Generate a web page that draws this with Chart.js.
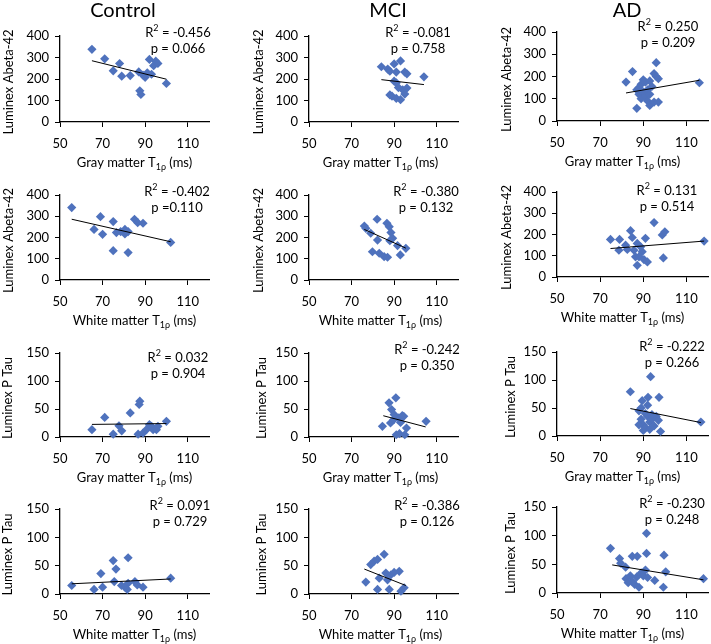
<!DOCTYPE html>
<html><head><meta charset="utf-8">
<script src="https://cdn.jsdelivr.net/npm/chart.js@4"></script>
<style>
html,body{margin:0;padding:0;background:#fff;}
#wrap{position:relative;width:711px;height:644px;overflow:hidden;background:#fff;}
canvas{position:absolute;}
</style></head><body><div id="wrap"></div>
<script>
// ---------- DATA ----------
const groups = ['Control', 'MCI', 'AD'];
const xTicks = [50, 70, 90, 110];
const abetaTicks = [0, 100, 200, 300, 400];
const ptauTicks = [0, 50, 100, 150];
const xTitles = ['Gray matter T', 'White matter T', 'Gray matter T', 'White matter T'];
const yTitles = ['Luminex Abeta-42', 'Luminex Abeta-42', 'Luminex P Tau', 'Luminex P Tau'];
const r2Values = ['-0.456', '-0.081', '0.250', '-0.402', '-0.380', '0.131', '0.032', '-0.242', '-0.222', '0.091', '-0.386', '-0.230'];
const pTexts = ['p = 0.066', 'p = 0.758', 'p = 0.209', 'p =0.110', 'p = 0.132', 'p = 0.514', 'p = 0.904', 'p = 0.350', 'p = 0.266', 'p = 0.729', 'p = 0.126', 'p = 0.248'];

// Row 1: gray matter vs Abeta-42
const ctrlGmAbetaX = [65, 71, 75, 78, 79, 83, 87, 87.5, 88, 89, 90, 91, 92, 93, 94, 95, 96, 100];
const ctrlGmAbetaY = [338, 294, 238, 272, 213, 216, 233, 145, 128, 218, 208, 229, 291, 222, 262, 283, 272, 179];
const ctrlGmAbetaTrendX = [65, 100];
const ctrlGmAbetaTrendY = [285, 199];

const mciGmAbetaX = [84, 87, 88, 90, 91, 93, 95, 96, 90, 91, 92, 94, 96, 88, 89, 91, 93, 95, 104];
const mciGmAbetaY = [257, 246, 236, 270, 232, 284, 232, 224, 190, 182, 160, 150, 158, 126, 120, 110, 104, 130, 210];
const mciGmAbetaTrendX = [84, 104];
const mciGmAbetaTrendY = [197, 174];

const adGmAbetaX = [82, 85, 87, 87, 88, 88, 89, 89, 90, 90, 91, 91, 92, 92, 93, 93, 94, 95, 95, 96, 97, 96, 97, 93, 116];
const adGmAbetaY = [175, 222, 140, 57, 120, 150, 165, 100, 185, 130, 175, 110, 140, 90, 70, 120, 155, 85, 213, 200, 190, 262, 85, 180, 172];
const adGmAbetaTrendX = [82, 116];
const adGmAbetaTrendY = [126, 183];

// Row 2: white matter vs Abeta-42
const ctrlWmAbetaX = [55.5, 69, 66, 70, 75, 75, 76.5, 78.5, 80.5, 80.5, 82, 82, 85, 86.5, 89, 102];
const ctrlWmAbetaY = [341, 298, 238, 215, 275, 138, 223, 228, 238, 217, 228, 129, 286, 270, 267, 177];
const ctrlWmAbetaTrendX = [55.5, 102];
const ctrlWmAbetaTrendY = [286, 180];

const mciWmAbetaX = [76, 76.7, 79, 79.8, 82, 82.2, 83, 85.3, 86.9, 86.6, 87.7, 88.5, 89.3, 88, 91.6, 92.9, 95.5];
const mciWmAbetaY = [254, 243, 220, 133, 286, 188, 126, 110, 107, 267, 251, 223, 196, 185, 162, 118, 149];
const mciWmAbetaTrendX = [76, 95.5];
const mciWmAbetaTrendY = [238, 150];

const adWmAbetaX = [74.8, 79, 78.7, 81.8, 84.1, 84.9, 85.7, 87.2, 88.8, 89.5, 86.4, 88, 87.2, 90.3, 91, 91.9, 95, 98.8, 100, 99.3, 82.6, 118.2];
const adWmAbetaY = [177, 177, 126, 150, 218, 186, 126, 158, 142, 119, 95, 95, 55, 82, 182, 71, 256, 198, 213, 90, 130, 169];
const adWmAbetaTrendX = [74.8, 118.2];
const adWmAbetaTrendY = [134, 169];

// Row 3: gray matter vs P Tau
const ctrlGmPtauX = [65, 71, 75, 77.7, 79, 83, 87.5, 87.2, 86.7, 89, 90.6, 92, 93, 93.75, 95.3, 96, 100];
const ctrlGmPtauY = [13, 35, 5, 20, 11, 43, 64, 58, 5, 7, 13, 22, 19, 13, 13, 19, 28];
const ctrlGmPtauTrendX = [65, 100];
const ctrlGmPtauTrendY = [22.5, 24];

const mciGmPtauX = [84.5, 87.6, 88.8, 90.8, 88.3, 89.8, 92.2, 93.8, 94.5, 91, 92.5, 95, 95.8, 105, 90, 93];
const mciGmPtauY = [19, 61, 49, 70, 25, 31, 34, 38, 37, 4, 6, 4, 16, 28, 40, 26];
const mciGmPtauTrendX = [84.9, 104.8];
const mciGmPtauTrendY = [38, 18];

const adGmPtauX = [84, 93.4, 97.3, 92.2, 89.5, 98, 116.7, 88, 89, 90, 90, 91, 91, 92, 93, 93, 94, 95, 96, 97, 89, 92, 94, 88];
const adGmPtauY = [79, 106, 69, 69, 63, 8, 25, 45, 30, 20, 10, 40, 15, 35, 25, 12, 30, 18, 35, 28, 50, 55, 38, 20];
const adGmPtauTrendX = [84, 116.7];
const adGmPtauTrendY = [49, 24];

// Row 4: white matter vs P Tau
const ctrlWmPtauX = [55.5, 66, 69.2, 70, 75, 76.3, 75.5, 78.9, 80.5, 81.6, 82, 82, 85.2, 86.3, 89, 102];
const ctrlWmPtauY = [15, 8, 36, 12, 59, 44, 22, 15, 12, 8, 19, 64, 22, 16, 12, 28];
const ctrlWmPtauTrendX = [55.5, 102];
const ctrlWmPtauTrendY = [18, 26.5];

const mciWmPtauX = [76.7, 79, 80.6, 82.2, 83, 82.2, 85.3, 86.1, 86.9, 87.7, 88.5, 92.4, 93.2, 94.7, 90];
const mciWmPtauY = [21, 52, 58, 61, 28, 8, 70, 37, 25, 8, 34, 40, 5, 11, 38];
const mciWmPtauTrendX = [76, 95.5];
const mciWmPtauTrendY = [44, 15];

const adWmPtauX = [74.8, 79, 79.5, 81.8, 84.9, 87.2, 91.5, 91.5, 99.6, 99.3, 100.4, 95.3, 117.9, 82, 84, 86, 87, 88, 89, 90, 91, 85, 83, 92];
const adWmPtauY = [78, 60, 52, 45, 64, 64, 104, 69, 66, 10, 37, 22, 25, 25, 30, 15, 28, 10, 35, 30, 40, 20, 18, 27];
const adWmPtauTrendX = [75.6, 117.9];
const adWmPtauTrendY = [49, 23];

const seriesX = [ctrlGmAbetaX, mciGmAbetaX, adGmAbetaX, ctrlWmAbetaX, mciWmAbetaX, adWmAbetaX, ctrlGmPtauX, mciGmPtauX, adGmPtauX, ctrlWmPtauX, mciWmPtauX, adWmPtauX];
const seriesY = [ctrlGmAbetaY, mciGmAbetaY, adGmAbetaY, ctrlWmAbetaY, mciWmAbetaY, adWmAbetaY, ctrlGmPtauY, mciGmPtauY, adGmPtauY, ctrlWmPtauY, mciWmPtauY, adWmPtauY];
const trendX = [ctrlGmAbetaTrendX, mciGmAbetaTrendX, adGmAbetaTrendX, ctrlWmAbetaTrendX, mciWmAbetaTrendX, adWmAbetaTrendX, ctrlGmPtauTrendX, mciGmPtauTrendX, adGmPtauTrendX, ctrlWmPtauTrendX, mciWmPtauTrendX, adWmPtauTrendX];
const trendY = [ctrlGmAbetaTrendY, mciGmAbetaTrendY, adGmAbetaTrendY, ctrlWmAbetaTrendY, mciWmAbetaTrendY, adWmAbetaTrendY, ctrlGmPtauTrendY, mciGmPtauTrendY, adGmPtauTrendY, ctrlWmPtauTrendY, mciWmPtauTrendY, adWmPtauTrendY];

// ---------- LAYOUT (page pixels) ----------
const FONT = 'Lato, "Liberation Sans", sans-serif';
const colLeft = [0, 237, 474];
const rowTop = [0, 160, 320, 480];
const rowH = [178, 178, 178, 164];
const plotLR = [[60, 209], [309, 458], [557, 708]];
const plotTB = [
  [[36, 122], [36, 122], [32, 121]],
  [[195, 280], [195, 280], [192, 277]],
  [[353, 437], [353, 437], [352, 436]],
  [[509, 594], [509, 594], [507, 593]]
];
const annPos = [ // [centerX, dy of R2 line from plot top]
  [178, -3], [418, -3], [668, -5],
  [177, -3], [426, -3], [667, -1],
  [178, 5], [427, -3], [672, -5],
  [180, -3], [427, -3], [672, -3]
];
const titlePos = [[123, 11], [388, 11], [627, 11]];
const xTitleShift = [0, -3, -10];
const yTitleDx = [[-51, -50, -50], [-51, -50, -50], [-52, -47, -46], [-52, -47, -46]];
const MARK = '#4F72BD';

function drawRich(ctx, parts, cx, cy) {
  let w = 0;
  for (const [t, s] of parts) { ctx.font = s + 'px ' + FONT; w += ctx.measureText(t).width; }
  let x = cx - w / 2;
  ctx.textAlign = 'left'; ctx.textBaseline = 'middle';
  for (const [t, s, dy] of parts) {
    ctx.font = s + 'px ' + FONT;
    ctx.fillText(t, x, cy + dy);
    x += ctx.measureText(t).width;
  }
}

const decor = {
  id: 'decor',
  afterDraw(chart) {
    const o = chart.options.plugins.decor;
    const c = chart.ctx, a = chart.chartArea;
    c.save();
    c.fillStyle = '#000';
    if (o.title) {
      c.font = '20px ' + FONT; c.textAlign = 'center'; c.textBaseline = 'middle';
      c.fillText(o.title, o.titleX, o.titleY);
    }
    c.save();
    c.translate(a.left + o.yDx, (a.top + a.bottom) / 2 + 3);
    c.rotate(-Math.PI / 2);
    c.font = '13px ' + FONT; c.textAlign = 'center'; c.textBaseline = 'middle';
    c.fillText(o.yTitle, 0, 0);
    c.restore();
    drawRich(c, [[o.xTitle, 13, 0], ['1\u03C1', 9, 4], [' (ms)', 13, 0]], (a.left + a.right) / 2 + o.xShift, a.bottom + 41);
    drawRich(c, [['R', 13, 0], ['2', 9, -5], [' = ' + o.r2, 13, 0]], o.annX, a.top + o.annDy);
    drawRich(c, [[o.p, 13, 0]], o.annX, a.top + o.annDy + 16);
    c.restore();
  }
};

const wrap = document.getElementById('wrap');
for (let r = 0; r < 4; r++) {
  for (let g = 0; g < 3; g++) {
    const i = r * 3 + g;
    const cl = colLeft[g], ct = rowTop[r], cw = 237, ch = rowH[r];
    const [pl, pr] = plotLR[g];
    const [ptop, pbot] = plotTB[r][g];
    const cv = document.createElement('canvas');
    cv.width = cw; cv.height = ch;
    cv.style.left = cl + 'px'; cv.style.top = ct + 'px';
    cv.style.width = cw + 'px'; cv.style.height = ch + 'px';
    wrap.appendChild(cv);
    const isAbeta = r < 2;
    const yT = isAbeta ? abetaTicks : ptauTicks;
    const pts = seriesX[i].map((x, k) => ({ x, y: seriesY[i][k] }));
    const tr = trendX[i].map((x, k) => ({ x, y: trendY[i][k] }));
    new Chart(cv, {
      type: 'scatter',
      data: {
        datasets: [
          { data: tr, showLine: true, borderColor: '#000', borderWidth: 1, pointRadius: 0, clip: false },
          { data: pts, pointStyle: 'rectRot', pointRadius: 4.6, backgroundColor: MARK, borderColor: MARK, borderWidth: 0, clip: false }
        ]
      },
      options: {
        responsive: false, animation: false, devicePixelRatio: 1,
        layout: { autoPadding: false, padding: { top: ptop - ct, right: cl + cw - pr, left: 0, bottom: 0 } },
        plugins: {
          legend: { display: false }, tooltip: { enabled: false },
          decor: {
            title: r === 0 ? groups[g] : null, titleX: titlePos[g][0] - cl, titleY: titlePos[g][1],
            yTitle: yTitles[r], yDx: yTitleDx[r][g], xTitle: xTitles[r], xShift: xTitleShift[g],
            r2: r2Values[i], p: pTexts[i], annX: annPos[i][0] - cl, annDy: annPos[i][1]
          }
        },
        scales: {
          x: {
            type: 'linear', min: 50, max: 120,
            afterBuildTicks: s => { s.ticks = xTicks.map(v => ({ value: v })); },
            afterFit: s => { s.height = ct + ch - pbot; },
            ticks: { color: '#000', font: { family: FONT, size: 13 }, padding: 9, maxRotation: 0 },
            grid: { drawOnChartArea: false, drawTicks: true, tickLength: 5, color: '#000' },
            border: { display: true, color: '#000', width: 1.3 }
          },
          y: {
            type: 'linear', min: 0, max: yT[yT.length - 1],
            afterBuildTicks: s => { s.ticks = yT.map(v => ({ value: v })); },
            afterFit: s => { s.width = pl - cl; },
            ticks: { color: '#000', font: { family: FONT, size: 13 }, padding: 6 },
            grid: { drawOnChartArea: false, drawTicks: true, tickLength: 5, color: '#000' },
            border: { display: true, color: '#000', width: 1.3 }
          }
        }
      },
      plugins: [decor]
    });
  }
}
</script></body></html>
